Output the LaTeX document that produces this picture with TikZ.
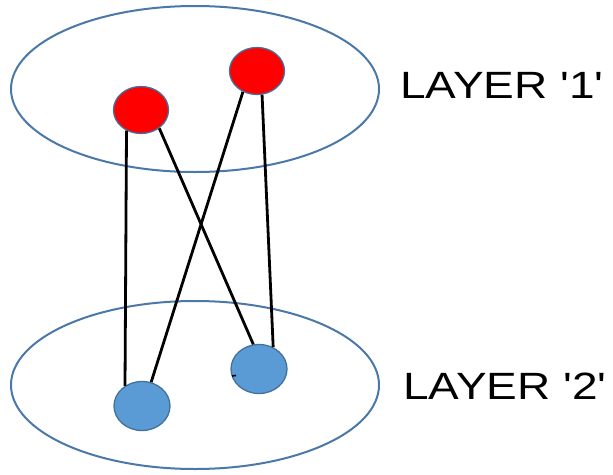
\documentclass[tikz,border=0pt]{standalone}
\usepackage{fontspec}
\setmainfont{Liberation Sans}
\usetikzlibrary{shapes.geometric,calc}
\definecolor{layerblue}{HTML}{4A78A8}
\definecolor{nodeline}{HTML}{41719C}
\definecolor{nodeblue}{HTML}{5B9BD5}
\begin{document}
\begin{tikzpicture}[x=1pt,y=-1pt,
  layer/.style={draw=layerblue,line width=2pt},
  rednode/.style={ellipse,draw=nodeline,line width=1.3pt,fill=red,minimum width=55pt,minimum height=47pt,inner sep=0pt},
  bluenode/.style={ellipse,draw=nodeline,line width=1.3pt,fill=nodeblue,minimum width=56pt,minimum height=49pt,inner sep=0pt},
  link/.style={draw=black,line width=2.8pt},
  lbl/.style={anchor=base west,inner sep=0pt,font=\fontsize{38}{40}\selectfont}]
\useasboundingbox (0,0) rectangle (613,474);
\draw[layer] (195,89) ellipse [x radius=184, y radius=83];
\draw[layer] (195,385) ellipse [x radius=184, y radius=84];
\node[rednode] (r1) at (141,110) {};
\node[rednode] (r2) at (257,71) {};
\node[bluenode] (b1) at (142,406) {};
\node[bluenode] (b2) at (259,369) {};
\draw[link] (r1.235) -- (b1.130);
\draw[link] (r1.315) -- (b2.103);
\draw[link] (r2.236) -- (b1.69);
\draw[link] (r2.282) -- (b2.57);
\coordinate (tick) at ($(b2.center)+(-27,7)$);
\draw[line width=1.6pt] (tick) -- ++(4,-0.6);
\node[lbl] (l1) at (400,98) {\scalebox{1.21}[1]{LAYER \textquotesingle 1\textquotesingle}};
\node[lbl] (l2) at (403,399) {\scalebox{1.21}[1]{LAYER \textquotesingle 2\textquotesingle}};
\end{tikzpicture}
\end{document}
